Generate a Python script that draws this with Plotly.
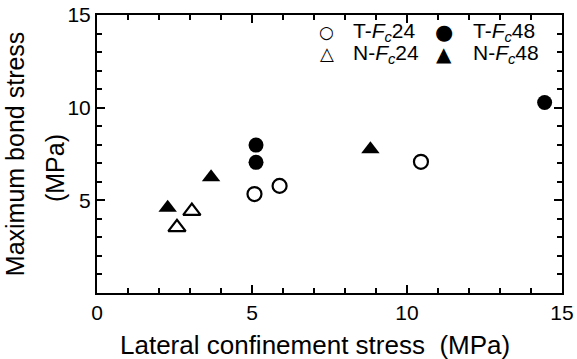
import plotly.graph_objects as go

# Data
t24_x = [5.08, 5.89, 10.45]
t24_y = [5.34, 5.78, 7.08]
t48_x = [5.13, 5.13, 14.44]
t48_y = [7.98, 7.05, 10.28]
n24_x = [2.58, 3.06]
n24_y = [3.54, 4.42]
n48_x = [2.28, 3.68, 8.82]
n48_y = [4.60, 6.24, 7.76]

names = ["T-<i>F<sub>c</sub></i>24", "T-<i>F<sub>c</sub></i>48",
         "N-<i>F<sub>c</sub></i>24", "N-<i>F<sub>c</sub></i>48"]
legend_glyphs = ["\u25cb", "\u25cf", "\u25b3", "\u25b2"]

# Axis tick positions
x_major = [0, 5, 10, 15]
y_major = [5, 10, 15]
minor_vals = [1, 2, 3, 4, 6, 7, 8, 9, 11, 12, 13, 14]

FONT = "Liberation Sans, Arial, Helvetica, sans-serif"
SYM_FONT = "DejaVu Sans"
glyph_sizes = [17, 21, 18, 20]

fig = go.Figure()
fig.add_trace(go.Scatter(x=t24_x, y=t24_y, mode="markers", name="T-Fc24",
                         marker=dict(symbol="circle-open", size=14, color="black", line=dict(width=2.2))))
fig.add_trace(go.Scatter(x=t48_x, y=t48_y, mode="markers", name="T-Fc48",
                         marker=dict(symbol="circle", size=15, color="black")))
fig.add_trace(go.Scatter(x=n24_x, y=n24_y, mode="markers", name="N-Fc24",
                         marker=dict(symbol="triangle-up-open", size=15, color="black", line=dict(width=2.2))))
fig.add_trace(go.Scatter(x=n48_x, y=n48_y, mode="markers", name="N-Fc48",
                         marker=dict(symbol="triangle-up", size=16, color="black")))

axis_common = dict(
    automargin=False,
    showline=True, linecolor="black", linewidth=2, mirror="ticks",
    ticks="inside", ticklen=8, tickwidth=2, tickcolor="black",
    showgrid=False, zeroline=False,
    minor=dict(ticks="inside", ticklen=5, tickwidth=2, tickcolor="black",
               tickvals=minor_vals, showgrid=False),
    tickfont=dict(family=FONT, size=21, color="black"),
)

fig.update_xaxes(range=[0, 15], tickvals=x_major, ticktext=[str(v) for v in x_major], **axis_common)
fig.update_yaxes(range=[0, 15], tickvals=y_major, ticktext=[str(v) for v in y_major], **axis_common)

# Legend drawn as text: glyph + label, two columns and two rows
annotations = []
cols = [(0.4946, 0.546), (0.7462, 0.804)]
rows = [0.939, 0.86]
order = [(0, 0, 0), (1, 0, 1), (2, 1, 0), (3, 1, 1)]  # (series, row, col)
for i, r, c in order:
    annotations.append(dict(xref="paper", yref="paper", x=cols[c][0], y=rows[r],
                            xanchor="center", yanchor="middle", showarrow=False,
                            text=legend_glyphs[i],
                            font=dict(family=SYM_FONT, size=glyph_sizes[i], color="black")))
    annotations.append(dict(xref="paper", yref="paper", x=cols[c][1], y=rows[r],
                            xanchor="left", yanchor="middle", showarrow=False,
                            text=names[i], font=dict(family=FONT, size=21, color="black")))
# axis titles
annotations.append(dict(xref="paper", yref="paper", x=0.469, y=-0.187, xanchor="center", yanchor="middle",
                        showarrow=False, text="Lateral confinement stress\u00a0 (MPa)",
                        font=dict(family=FONT, size=26, color="black")))
annotations.append(dict(xref="paper", yref="paper", x=-0.176, y=0.5, xanchor="center", yanchor="middle",
                        showarrow=False, textangle=-90, text="Maximum bond stress",
                        font=dict(family=FONT, size=25, color="black")))
annotations.append(dict(xref="paper", yref="paper", x=-0.090, y=0.45, xanchor="center", yanchor="middle",
                        showarrow=False, textangle=-90, text="(MPa)",
                        font=dict(family=FONT, size=25, color="black")))

fig.update_layout(
    width=577, height=359,
    margin=dict(l=97, r=15, t=15, b=66, autoexpand=False),
    paper_bgcolor="white", plot_bgcolor="white",
    showlegend=False,
    annotations=annotations,
)

fig.write_html("out.html")
